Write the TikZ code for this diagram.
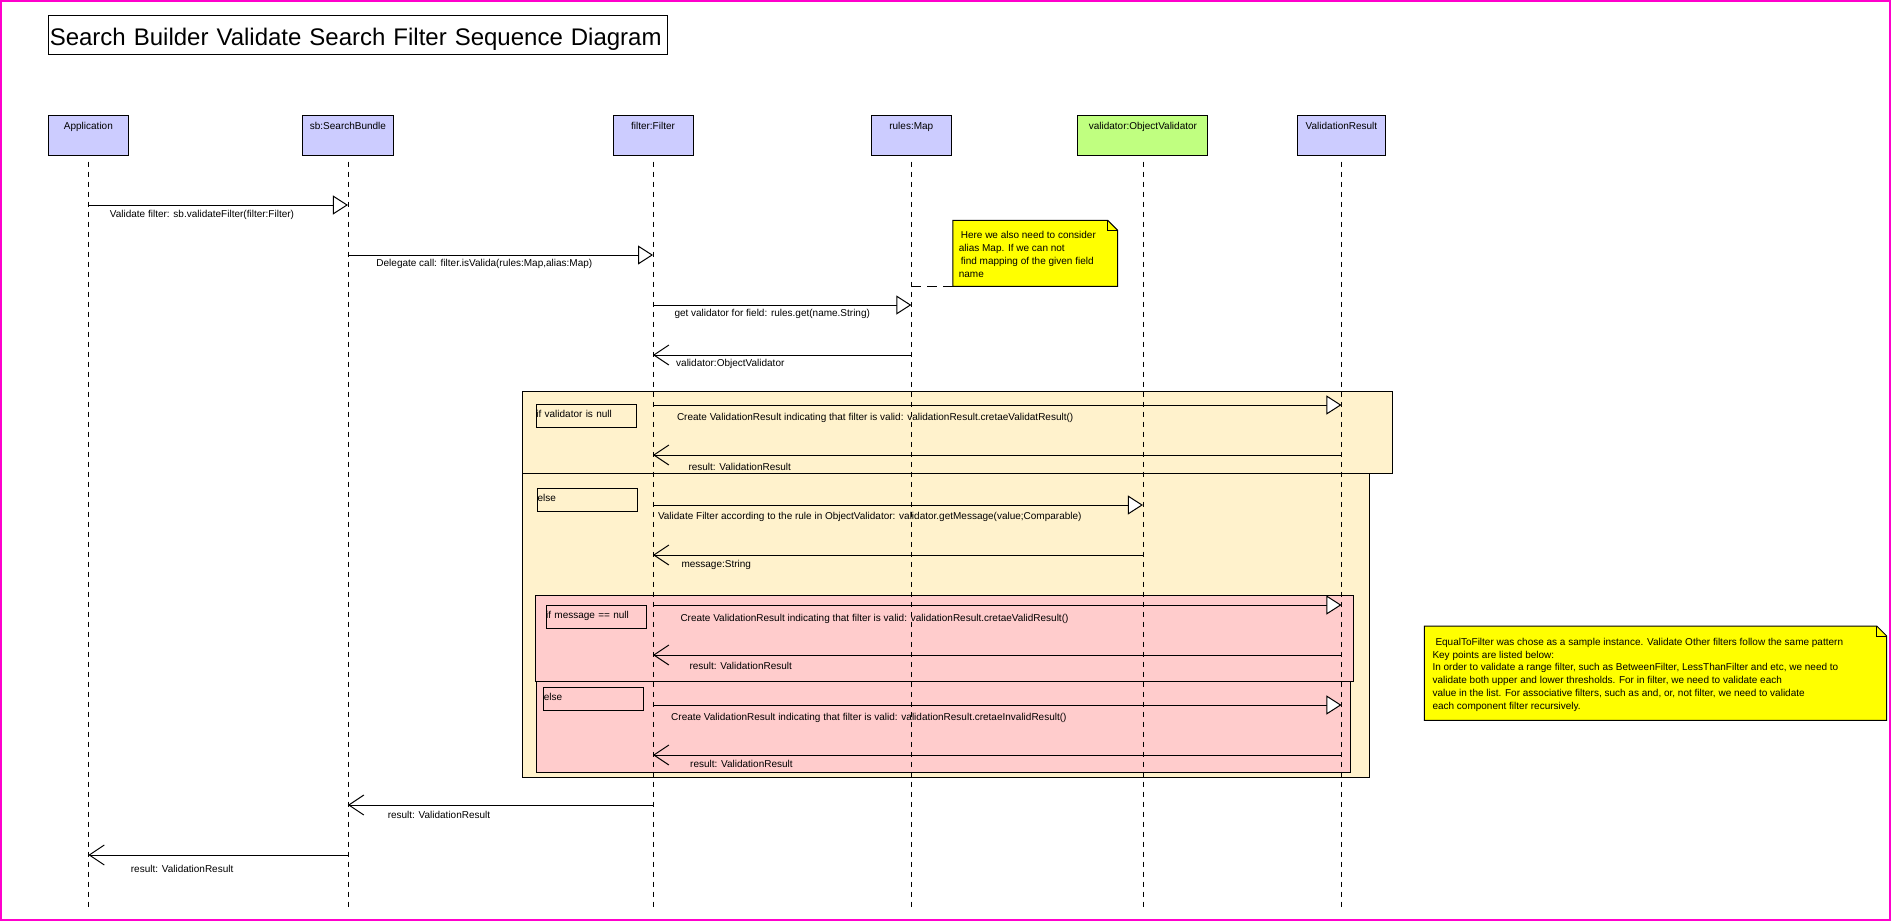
\documentclass[tikz,border=0pt]{standalone}
\usepackage{fontspec}
\setmainfont{Liberation Sans}
\usetikzlibrary{positioning}
\usetikzlibrary{arrows.meta}
\definecolor{objblue}{RGB}{204,204,255}
\definecolor{objgreen}{RGB}{192,255,128}
\definecolor{fragyellow}{RGB}{255,242,204}
\definecolor{fragpink}{RGB}{255,204,204}
\definecolor{noteyellow}{RGB}{255,255,0}
\definecolor{framepink}{RGB}{255,0,204}
\tikzstyle{object} = [draw, line width=1pt, fill=objblue, outer sep=0pt, inner xsep=0pt, inner ysep=2pt, minimum height=40.3pt, text height=12.5pt, text depth=23.8pt, font=\fontsize{10}{12}\selectfont]
\tikzstyle{lifeline} = [draw, line width=0.8pt, dash pattern=on 5pt off 5pt]
\tikzstyle{call} = [>={Triangle[length=15pt, width=19pt, fill=white]}, draw, ->, line width=1pt]
\tikzstyle{reply} = [>={Straight Barb[length=15pt, width=20pt]}, draw, ->, line width=1pt]
\tikzstyle{msg} = [anchor=west, inner sep=0pt, yshift=-10pt, text height=7.5pt, text depth=2pt, font=\fontsize{10}{12}\selectfont]
\tikzstyle{guard} = [draw, line width=1pt, anchor=north west, text width=100pt, inner xsep=0pt, inner ysep=0pt, text height=13pt, text depth=10pt, align=left, font=\fontsize{10}{12}\selectfont]
\tikzstyle{fragment} = [draw, line width=1pt]
\tikzstyle{notebox} = [draw, line width=1pt, fill=noteyellow]
\tikzstyle{notetext} = [anchor=north west, inner sep=0pt, align=left]
\tikzstyle{notelink} = [draw, line width=1pt, dash pattern=on 10pt off 6pt]

\begin{document}
\begin{tikzpicture}[x=1pt, y=-1pt, node distance=6em]
        \useasboundingbox (0,0) rectangle (1891,921);
        \draw[framepink, line width=2pt] (1,1) rectangle (1889.5,919.5);

        % title
        \node[draw, line width=1pt, anchor=north west, text width=615.7pt, align=left, inner xsep=1.5pt, inner ysep=0pt,
              minimum height=39.3pt, text height=20pt, text depth=0pt, font=\fontsize{24}{28}\selectfont]
              (title) at (47.8,15) {Search Builder Validate Search Filter Sequence Diagram};

        % combined fragments
        \draw[fragment, fill=fragyellow] (522,473.3) rectangle (1369.3,777.3);
        \draw[fragment, fill=fragyellow] (522,391.7) rectangle (1392.8,473.3);
        \draw[fragment, fill=fragpink] (535.3,595) rectangle (1353.8,681);
        \draw[fragment, fill=fragpink] (536.4,681) rectangle (1350.9,772.3);
        \node[guard] (isnull) at (535.8,404) {if validator is null};
        \node[guard] (notnull) at (537,488.3) {else};
        \node[guard] (msgnull) at (545.6,605) {if message == null};
        \node[guard] (msgset) at (543.3,687.3) {else};

        % objects
        \node[object, minimum width=80.4pt, anchor=north west] (app) at (48.2,115) {Application};
        \node[object, minimum width=91.5pt, right=173.6pt of app] (sb) {sb:SearchBundle};
        \node[object, minimum width=80pt, right=219.3pt of sb] (filter) {filter:Filter};
        \node[object, minimum width=80pt, right=178.3pt of filter] (rules) {rules:Map};
        \node[object, minimum width=130pt, fill=objgreen, right=126.6pt of rules] (validator) {validator:ObjectValidator};
        \node[object, minimum width=88.3pt, right=89.4pt of validator] (result) {ValidationResult};

        \coordinate (bottom) at (0,910);
        \draw[lifeline] ([yshift=-6.4pt]app.south) -- (app |- bottom);
        \draw[lifeline] ([yshift=-6.4pt]sb.south) -- (sb |- bottom);
        \draw[lifeline] ([yshift=-6.4pt]filter.south) -- (filter |- bottom);
        \draw[lifeline] ([yshift=-6.4pt]rules.south) -- (rules |- bottom);
        \draw[lifeline] ([yshift=-6.4pt]validator.south) -- (validator |- bottom);
        \draw[lifeline] ([yshift=-6.4pt]result.south) -- (result |- bottom);

        % messages
        \coordinate (m1) at (0,205);
        \coordinate (m2) at (0,255);
        \coordinate (m3) at (0,305);
        \coordinate (m4) at (0,355);
        \coordinate (m5) at (0,405);
        \coordinate (m6) at (0,455);
        \coordinate (m7) at (0,505);
        \coordinate (m8) at (0,555);
        \coordinate (m9) at (0,605);
        \coordinate (m10) at (0,655);
        \coordinate (m11) at (0,705);
        \coordinate (m12) at (0,755);
        \coordinate (m13) at (0,805);
        \coordinate (m14) at (0,855);

        \draw[call] (app |- m1) -- (sb |- m1)
            node[msg, at start, xshift=21pt] {Validate filter: sb.validateFilter(filter:Filter)};
        \draw[call] (sb |- m2) -- (filter |- m2)
            node[msg, at start, xshift=28pt, yshift=1pt] {Delegate call: filter.isValida(rules:Map,alias:Map)};
        \draw[call] (filter |- m3) -- (rules |- m3)
            node[msg, at start, xshift=21pt, yshift=1.5pt] {get validator for field: rules.get(name.String)};
        \draw[reply] (rules |- m4) -- (filter |- m4)
            node[msg, at end, xshift=22.7pt, yshift=1pt] {validator:ObjectValidator};
        \draw[call] (filter |- m5) -- (result |- m5)
            node[msg, at start, xshift=23.5pt, yshift=-2.5pt] {Create ValidationResult indicating that filter is valid: validationResult.cretaeValidatResult()};
        \draw[reply] (result |- m6) -- (filter |- m6)
            node[msg, at end, xshift=35pt, yshift=-2.5pt] {result: ValidationResult};
        \draw[call] (filter |- m7) -- (validator |- m7)
            node[msg, at start, xshift=4.5pt, yshift=-2pt] {Validate Filter according to the rule in ObjectValidator: validator.getMessage(value;Comparable)};
        \draw[reply] (validator |- m8) -- (filter |- m8)
            node[msg, at end, xshift=28pt] {message:String};
        \draw[call] (filter |- m9) -- (result |- m9)
            node[msg, at start, xshift=27pt, yshift=-3.5pt] {Create ValidationResult indicating that filter is valid: validationResult.cretaeValidResult()};
        \draw[reply] (result |- m10) -- (filter |- m10)
            node[msg, at end, xshift=36pt, yshift=-1.5pt] {result: ValidationResult};
        \draw[call] (filter |- m11) -- (result |- m11)
            node[msg, at start, xshift=17.7pt, yshift=-3pt] {Create ValidationResult indicating that filter is valid: validationResult.cretaeInvalidResult()};
        \draw[reply] (result |- m12) -- (filter |- m12)
            node[msg, at end, xshift=36.7pt] {result: ValidationResult};
        \draw[reply] (filter |- m13) -- (sb |- m13)
            node[msg, at end, xshift=39.3pt, yshift=-1pt] {result: ValidationResult};
        \draw[reply] (sb |- m14) -- (app |- m14)
            node[msg, at end, xshift=42pt, yshift=-4.75pt] {result: ValidationResult};

        % notes
        \draw[notebox] (952.9,220.3) -- (1107.6,220.3) -- (1117.6,230.3) -- (1117.6,286.3) -- (952.9,286.3) -- cycle;
        \draw[line width=0.6pt] (1107.6,220.3) -- (1107.6,230.3) -- (1117.6,230.3);
        \node[notetext, font=\fontsize{10}{13}\selectfont] (aliasnote) at (958.6,230.9)
            {\hspace{2pt}Here we also need to consider\\alias Map. If we can not\\\hspace{2pt}find mapping of the given field\\name};
        \coordinate (aliasend) at (952.9,286.3);
        \draw[notelink] (rules |- aliasend) -- (aliasend);

        \draw[notebox] (1424.3,626) -- (1876.7,626) -- (1886.7,636) -- (1886.7,720.3) -- (1424.3,720.3) -- cycle;
        \draw[line width=0.6pt] (1876.7,626) -- (1876.7,636) -- (1886.7,636);
        \node[notetext, font=\fontsize{10}{12.9}\selectfont] (filternote) at (1432.3,637.7)
            {\hspace{3pt}EqualToFilter was chose as a sample instance. Validate Other filters follow the same pattern\\
             Key points are listed below:\\
             In order to validate a range filter, such as BetweenFilter, LessThanFilter and etc, we need to\\
             validate both upper and lower thresholds. For in filter, we need to validate each\\
             value in the list. For associative filters, such as and, or, not filter, we need to validate\\
             each component filter recursively.};
    \end{tikzpicture}
\end{document}
